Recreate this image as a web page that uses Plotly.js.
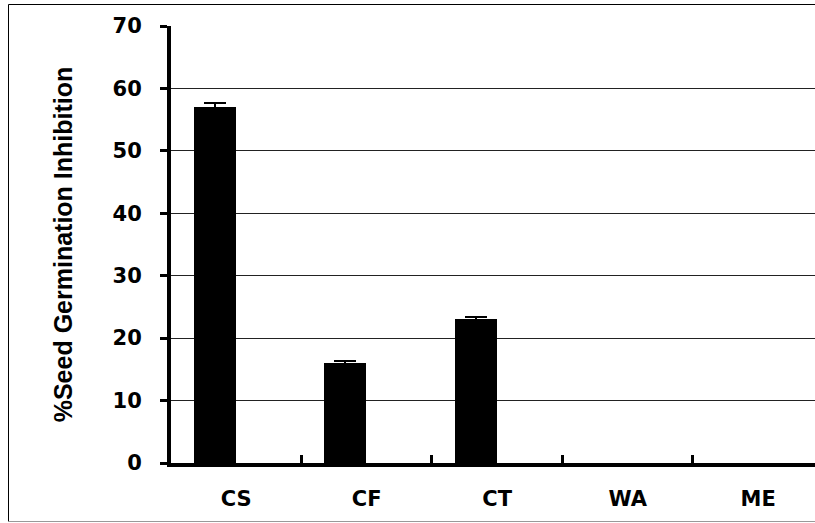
<!DOCTYPE html>
<html>
<head>
<meta charset="utf-8">
<script src="https://cdn.plot.ly/plotly-3.0.1.min.js"></script>
<style>
html,body{margin:0;padding:0;background:#fff;overflow:hidden;}
#chart{width:815px;height:523px;}
</style>
</head>
<body>
<div id="chart"></div>
<script>
var categories = ["CS", "CF", "CT", "WA", "ME"];
var inhibition = [57.1, 16.0, 23.0, 0, 0];
var inhibitionErr = [0.5, 0.3, 0.4, null, null];
var yTicks = [0, 10, 20, 30, 40, 50, 60, 70];

var barWidth = 0.32, barOffset = -0.325;

var errIdx = inhibitionErr.map(function(e, i){ return e === null ? -1 : i; }).filter(function(i){ return i >= 0; });

var bars = {
  type: "bar",
  x: categories,
  y: inhibition,
  width: barWidth,
  offset: barOffset,
  marker: {color: "#000000", line: {width: 0}},
  hoverinfo: "skip"
};

var errBars = {
  type: "bar",
  x: errIdx.map(function(i){ return categories[i]; }),
  y: errIdx.map(function(i){ return inhibition[i]; }),
  width: barWidth,
  offset: barOffset,
  marker: {color: "rgba(0,0,0,0)", line: {width: 0}},
  error_y: {type: "data", array: errIdx.map(function(i){ return inhibitionErr[i]; }), visible: true, color: "#000000", thickness: 2, width: 11},
  hoverinfo: "skip"
};

var L = 171, T = 26, W = 815, H = 523, B = 60;
var pw = W - L, ph = H - T - B;
function px(x){ return (x - L) / pw; }
function py(y){ return (H - B - y) / ph; }

var layout = {
  width: W, height: H,
  margin: {l: L, r: 0, t: T, b: B, pad: 0},
  paper_bgcolor: "#ffffff",
  plot_bgcolor: "#ffffff",
  showlegend: false,
  barmode: "overlay",
  bargap: 0,
  xaxis: {
    type: "category",
    range: [-0.5, 4.435],
    showline: true, linecolor: "#000000", linewidth: 4,
    ticks: "inside", tickson: "boundaries", ticklen: 8, tickwidth: 3, tickcolor: "#000000",
    ticklabelstandoff: 14,
    showgrid: false, zeroline: false,
    tickfont: {family: "DejaVu Sans", size: 21, color: "#000000", weight: "bold"},
    automargin: false,
    fixedrange: true
  },
  yaxis: {
    range: [0, 70],
    tickvals: yTicks,
    ticktext: yTicks.map(String),
    showline: true, linecolor: "#000000", linewidth: 4,
    ticks: "outside", ticklen: 7, tickwidth: 3, tickcolor: "#000000",
    ticklabelstandoff: 14,
    showgrid: true, gridcolor: "#222222", gridwidth: 1,
    zeroline: false,
    tickfont: {family: "DejaVu Sans", size: 21, color: "#000000", weight: "bold"},
    title: {text: "<b>%Seed Germination Inhibition</b>", font: {family: "Arial, 'Liberation Sans', sans-serif", size: 25, color: "#000000", weight: 700}, standoff: 34},
    automargin: false,
    fixedrange: true
  },
  shapes: [
    {type: "line", xref: "paper", yref: "paper", x0: px(8.5), x1: px(830), y0: py(4.5), y1: py(4.5), line: {color: "#000000", width: 1}},
    {type: "line", xref: "paper", yref: "paper", x0: px(8.5), x1: px(8.5), y0: py(4.5), y1: py(521.5), line: {color: "#000000", width: 1}},
    {type: "line", xref: "paper", yref: "paper", x0: px(8.5), x1: px(830), y0: py(521.5), y1: py(521.5), line: {color: "#999999", width: 1}}
  ]
};

Plotly.newPlot("chart", [bars, errBars], layout, {displayModeBar: false, staticPlot: true});
</script>
</body>
</html>
